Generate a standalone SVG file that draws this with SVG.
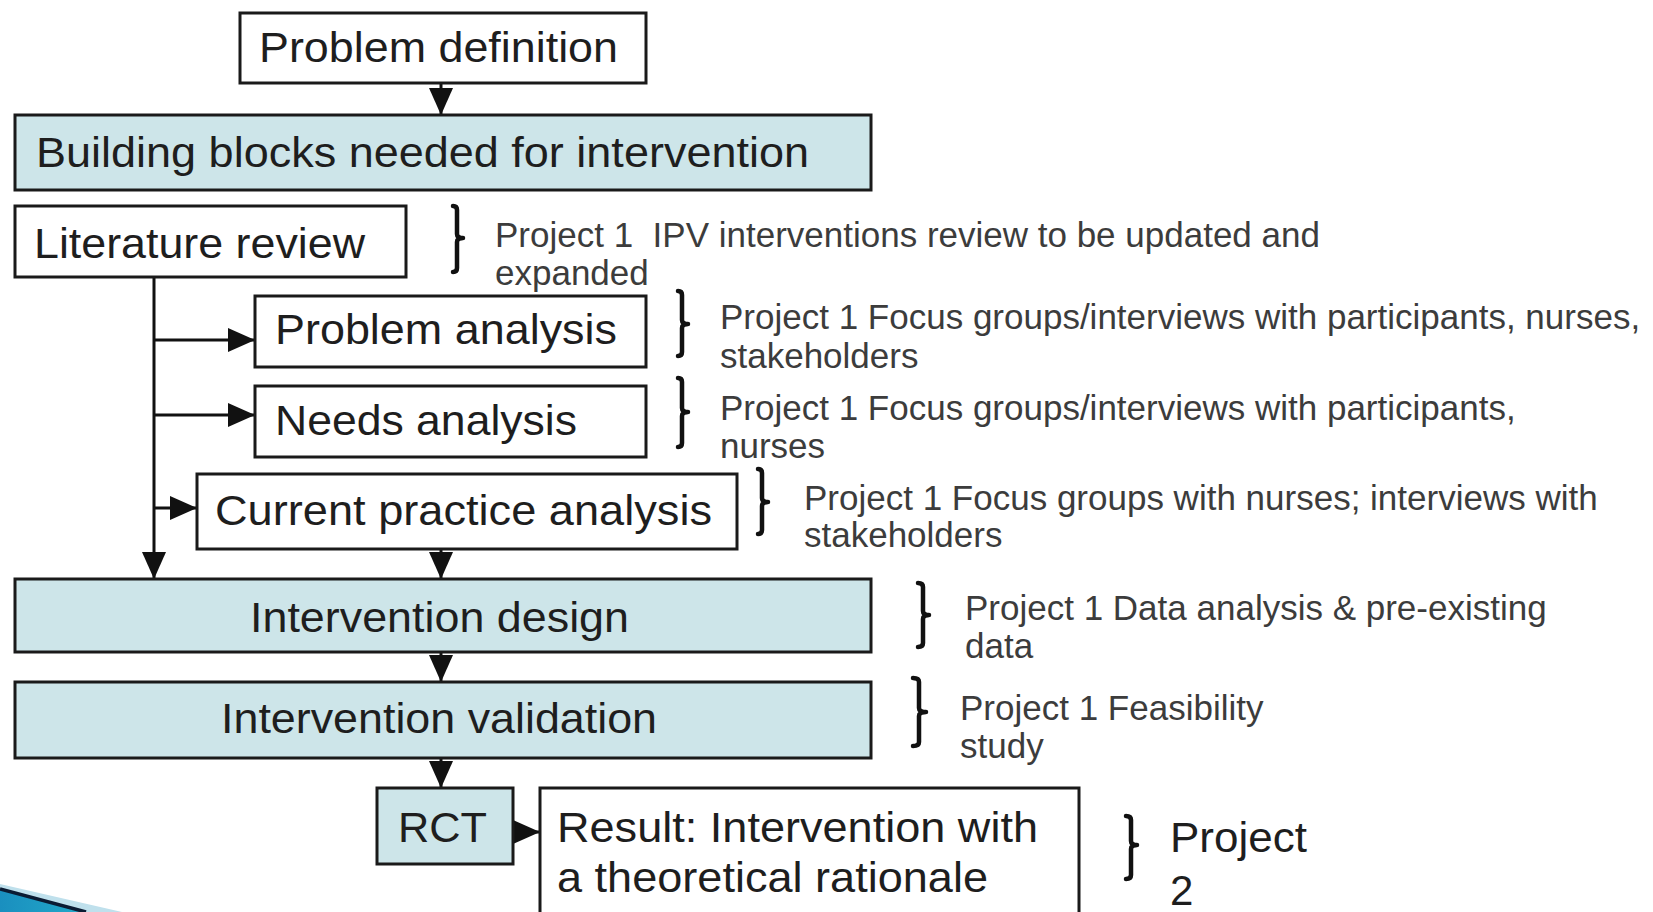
<svg xmlns="http://www.w3.org/2000/svg" width="1653" height="912" viewBox="0 0 1653 912">
  <style>
    .box { fill: #ffffff; stroke: #1a1a1a; stroke-width: 3; }
    .blue { fill: #cde5e9; stroke: #1a1a1a; stroke-width: 3; }
    .label { font-family: "Liberation Sans", Arial, sans-serif; font-size: 42px; fill: #1e1e1e; }
    .note { font-family: "Liberation Sans", Arial, sans-serif; font-size: 35px; fill: #3c3c3c; }
    .link { stroke: #111; stroke-width: 3; fill: none; marker-end: url(#arrow); }
    .brace { stroke: #111; stroke-width: 4.5; fill: none; stroke-linecap: round; stroke-linejoin: round; }
  </style>
  <defs>
    <marker id="arrow" markerUnits="userSpaceOnUse" markerWidth="27" markerHeight="24" refX="27" refY="12" orient="auto">
      <path d="M0,0 L27,12 L0,24 z" fill="#111"/>
    </marker>
    <linearGradient id="swoosh" x1="0" y1="0" x2="1" y2="0">
      <stop offset="0" stop-color="#1a8fbf"/>
      <stop offset="1" stop-color="#22a9c9"/>
    </linearGradient>
  </defs>

  <rect width="1653" height="912" fill="#ffffff"/>

  <!-- corner decoration -->
  <g id="corner">
    <polygon points="0,884 122,912 0,912" fill="#bfe0ec"/>
    <polygon points="0,889 86,912 0,912" fill="url(#swoosh)"/>
    <line x1="0" y1="889" x2="86" y2="912" stroke="#0b1b33" stroke-width="3.5"/>
  </g>

  <!-- connectors -->
  <g id="connectors">
    <path class="link" d="M441,83 V115"/>
    <path class="link" d="M154,277 V579"/>
    <path class="link" d="M154,340 H255"/>
    <path class="link" d="M154,415 H255"/>
    <path class="link" d="M154,508 H197"/>
    <path class="link" d="M441,549 V579"/>
    <path class="link" d="M441,652 V682"/>
    <path class="link" d="M441,758 V788"/>
    <path class="link" d="M513,832 H540"/>
  </g>

  <!-- flow nodes -->
  <g id="problem-definition">
    <rect class="box" x="240" y="13" width="406" height="70"/>
    <text class="label" x="259" y="62" textLength="359" lengthAdjust="spacingAndGlyphs">Problem definition</text>
  </g>
  <g id="building-blocks">
    <rect class="blue" x="15" y="115" width="856" height="75"/>
    <text class="label" x="36" y="167" textLength="773" lengthAdjust="spacingAndGlyphs">Building blocks needed for intervention</text>
  </g>
  <g id="literature-review">
    <rect class="box" x="15" y="206" width="391" height="71"/>
    <text class="label" x="34" y="258" textLength="331" lengthAdjust="spacingAndGlyphs">Literature review</text>
  </g>
  <g id="problem-analysis">
    <rect class="box" x="255" y="296" width="391" height="71"/>
    <text class="label" x="275" y="344" textLength="342" lengthAdjust="spacingAndGlyphs">Problem analysis</text>
  </g>
  <g id="needs-analysis">
    <rect class="box" x="255" y="386" width="391" height="71"/>
    <text class="label" x="275" y="435" textLength="302" lengthAdjust="spacingAndGlyphs">Needs analysis</text>
  </g>
  <g id="current-practice-analysis">
    <rect class="box" x="197" y="474" width="540" height="75"/>
    <text class="label" x="215" y="525" textLength="497" lengthAdjust="spacingAndGlyphs">Current practice analysis</text>
  </g>
  <g id="intervention-design">
    <rect class="blue" x="15" y="579" width="856" height="73"/>
    <text class="label" x="250" y="632" textLength="379" lengthAdjust="spacingAndGlyphs">Intervention design</text>
  </g>
  <g id="intervention-validation">
    <rect class="blue" x="15" y="682" width="856" height="76"/>
    <text class="label" x="221" y="733" textLength="436" lengthAdjust="spacingAndGlyphs">Intervention validation</text>
  </g>
  <g id="rct">
    <rect class="blue" x="377" y="788" width="136" height="76"/>
    <text class="label" x="398" y="842" textLength="89" lengthAdjust="spacingAndGlyphs">RCT</text>
  </g>
  <g id="result">
    <rect class="box" x="540" y="788" width="539" height="140"/>
    <text class="label" x="557" y="842" textLength="481" lengthAdjust="spacingAndGlyphs">Result: Intervention with</text>
    <text class="label" x="557" y="892" textLength="431" lengthAdjust="spacingAndGlyphs">a theoretical rationale</text>
  </g>

  <!-- project annotations -->
  <g id="note-literature">
    <path class="brace" d="M453,206 Q457,206 457,210 L457,234 Q457,238 463,238 Q457,238 457,242 L457,268 Q457,272 453,272"/>
    <text class="note" x="495" y="247" xml:space="preserve">Project 1  IPV interventions review to be updated and</text>
    <text class="note" x="495" y="285">expanded</text>
  </g>
  <g id="note-problem">
    <path class="brace" d="M678,291 Q682,291 682,295 L682,320 Q682,324 688,324 Q682,324 682,328 L682,352 Q682,356 678,356"/>
    <text class="note" x="720" y="329">Project 1 Focus groups/interviews with participants, nurses,</text>
    <text class="note" x="720" y="368">stakeholders</text>
  </g>
  <g id="note-needs">
    <path class="brace" d="M678,378 Q682,378 682,382 L682,408 Q682,412 688,412 Q682,412 682,416 L682,443 Q682,447 678,447"/>
    <text class="note" x="720" y="420">Project 1 Focus groups/interviews with participants,</text>
    <text class="note" x="720" y="458">nurses</text>
  </g>
  <g id="note-practice">
    <path class="brace" d="M758,469 Q762,469 762,473 L762,498 Q762,502 768,502 Q762,502 762,506 L762,530 Q762,534 758,534"/>
    <text class="note" x="804" y="510">Project 1 Focus groups with nurses; interviews with</text>
    <text class="note" x="804" y="547">stakeholders</text>
  </g>
  <g id="note-design">
    <path class="brace" d="M918,583 Q923,583 923,587 L923,611 Q923,615 929,615 Q923,615 923,619 L923,643 Q923,647 918,647"/>
    <text class="note" x="965" y="620">Project 1 Data analysis &amp; pre-existing</text>
    <text class="note" x="965" y="658">data</text>
  </g>
  <g id="note-validation">
    <path class="brace" d="M913,678 Q919,678 919,682 L919,708 Q919,712 926,712 Q919,712 919,716 L919,742 Q919,746 913,746"/>
    <text class="note" x="960" y="720">Project 1 Feasibility</text>
    <text class="note" x="960" y="758">study</text>
  </g>
  <g id="note-project2">
    <path class="brace" d="M1126,816 Q1131,816 1131,820 L1131,841 Q1131,845 1137,845 Q1131,845 1131,849 L1131,875 Q1131,879 1126,879"/>
    <text class="label" x="1170" y="852" textLength="137" lengthAdjust="spacingAndGlyphs">Project</text>
    <text class="label" x="1170" y="905">2</text>
  </g>
</svg>
